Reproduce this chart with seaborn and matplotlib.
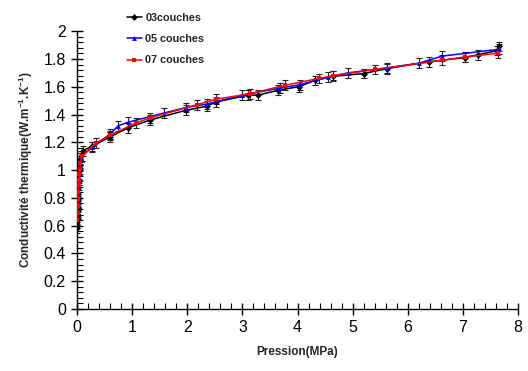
import pandas as pd
import numpy as np
import matplotlib
matplotlib.use('Agg')
import matplotlib.pyplot as plt
from matplotlib.ticker import MultipleLocator
import seaborn as sns

# --- data ---
labels = ['03couches', '05 couches', '07 couches']

x_03 = [0.0, 0.005, 0.01, 0.012, 0.015, 0.02, 0.025, 0.03, 0.04, 0.05, 0.07, 0.1,
        0.27, 0.6, 0.93, 1.32, 1.97, 2.35, 2.52, 3.11, 3.29, 3.65, 4.02, 4.31,
        4.65, 5.2, 5.62, 6.38, 7.04, 7.27, 7.62, 7.66]
y_03 = [0.58, 0.63, 0.68, 0.73, 0.78, 0.83, 0.88, 0.93, 0.99, 1.04, 1.10, 1.14,
        1.17, 1.24, 1.305, 1.36, 1.43, 1.46, 1.49, 1.54, 1.54, 1.575, 1.60, 1.645,
        1.675, 1.695, 1.73, 1.78, 1.81, 1.83, 1.86, 1.89]

x_05 = [0.01, 0.015, 0.02, 0.025, 0.03, 0.04, 0.05, 0.07, 0.27, 0.6, 0.75, 0.93,
        1.57, 1.97, 2.35, 3.0, 3.68, 4.05, 4.56, 4.92, 5.62, 6.21, 6.62, 7.66]
y_05 = [0.70, 0.76, 0.82, 0.88, 0.94, 0.99, 1.03, 1.09, 1.165, 1.26, 1.32, 1.345,
        1.41, 1.45, 1.475, 1.54, 1.59, 1.615, 1.67, 1.70, 1.735, 1.77, 1.82, 1.87]

x_07 = [0.005, 0.01, 0.015, 0.02, 0.025, 0.03, 0.035, 0.04, 0.05, 0.06, 0.085,
        0.34, 0.6, 1.07, 1.32, 2.17, 2.52, 3.14, 3.77, 4.39, 4.65, 5.41, 6.62,
        7.04, 7.63]
y_07 = [0.64, 0.69, 0.74, 0.79, 0.84, 0.89, 0.93, 0.97, 1.01, 1.05, 1.10,
        1.195, 1.25, 1.34, 1.375, 1.47, 1.51, 1.55, 1.61, 1.66, 1.68, 1.725, 1.79,
        1.815, 1.84]

err_03 = 0.035
err_05 = 0.035
err_07 = 0.035

colors = {'03couches': 'black', '05 couches': '#0000ff', '07 couches': '#ff0000'}
markers = {'03couches': 'D', '05 couches': '^', '07 couches': 's'}

df = pd.concat([
    pd.DataFrame({'P': x_03, 'k': y_03, 'serie': labels[0], 'err': err_03}),
    pd.DataFrame({'P': x_05, 'k': y_05, 'serie': labels[1], 'err': err_05}),
    pd.DataFrame({'P': x_07, 'k': y_07, 'serie': labels[2], 'err': err_07}),
], ignore_index=True)

sns.set_style('ticks')
plt.rcParams['font.family'] = ['Liberation Sans', 'DejaVu Sans']
plt.rcParams['mathtext.default'] = 'regular'

fig = plt.figure(figsize=(5.28, 3.71), dpi=100)
ax = fig.add_axes([0.146, 0.167, 0.835, 0.749])

# error bars first, lines and markers above
for lab in labels:
    d = df[df['serie'] == lab]
    ax.errorbar(d['P'], d['k'], yerr=d['err'], fmt='none', ecolor='#222222',
                elinewidth=0.8, capsize=2, capthick=0.8, zorder=2)

sns.lineplot(data=df, x='P', y='k', hue='serie', style='serie', hue_order=labels,
             style_order=labels, palette=colors, markers=markers, dashes=False,
             estimator=None, sort=False, errorbar=None, linewidth=1.1,
             markersize=3.5, markeredgewidth=0, ax=ax, zorder=3)

ax.set_xlim(0, 8)
ax.set_ylim(0, 2)
ax.xaxis.set_minor_locator(MultipleLocator(0.2))
ax.yaxis.set_minor_locator(MultipleLocator(0.04))
ax.set_xticks(np.arange(0, 9, 1))
ax.set_xticklabels([str(i) for i in range(9)])
ax.set_yticks(np.arange(0, 2.01, 0.2))
ax.set_yticklabels(['0', '0.2', '0.4', '0.6', '0.8', '1', '1.2', '1.4', '1.6', '1.8', '2'])

sns.despine(ax=ax)
for s in ['left', 'bottom']:
    ax.spines[s].set_linewidth(1.0)
    ax.spines[s].set_color('black')
ax.tick_params(which='major', direction='inout', length=8, width=1, labelsize=11.5,
               colors='black', pad=4)
ax.tick_params(which='minor', direction='in', length=4, width=0.8, colors='black')

ax.set_xlabel('Pression(MPa)', fontsize=8.5, fontweight='bold', labelpad=8)
ax.set_ylabel(r'Conductivité thermique(W.m$^{-1}$.K$^{-1}$)', fontsize=8.5,
              fontweight='bold', labelpad=6)

h, l = ax.get_legend_handles_labels()
ax.legend(h, l, loc='upper left', bbox_to_anchor=(0.24, 0.966),
          bbox_transform=fig.transFigure, frameon=False,
          prop={'size': 7.8, 'weight': 'bold'}, handlelength=1.4, handletextpad=0.3,
          labelspacing=1.05, borderaxespad=0, borderpad=0)

fig.savefig('out.png', dpi=100)
